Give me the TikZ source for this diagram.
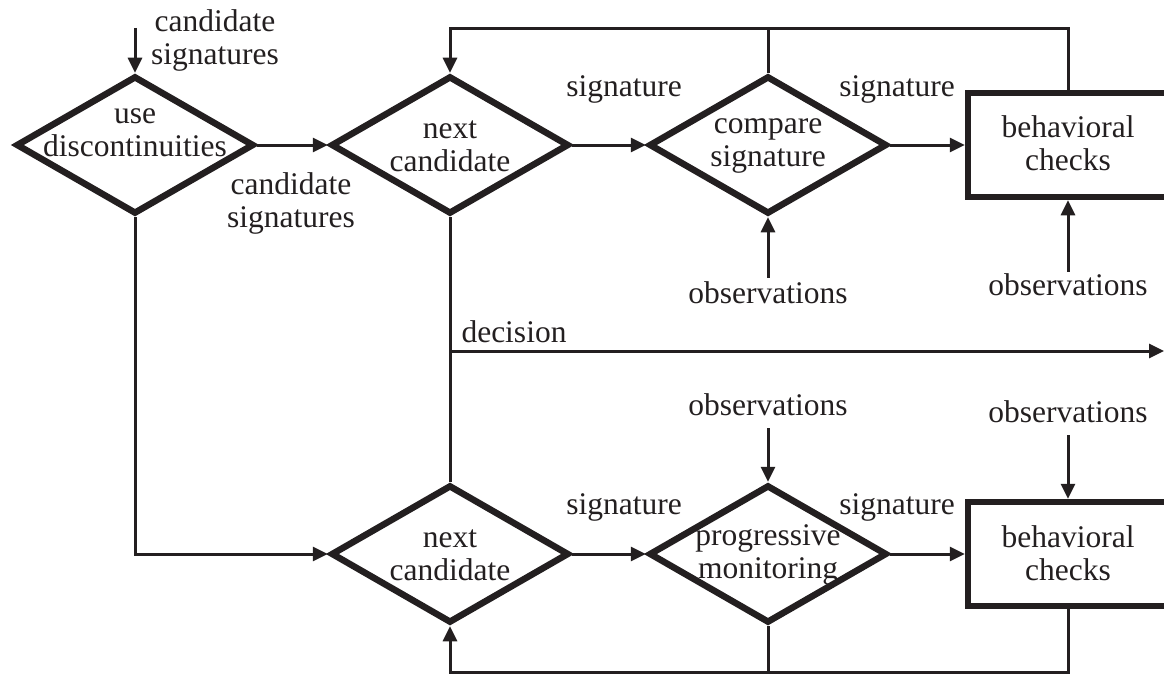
\documentclass[tikz,border=0pt]{standalone}
\usepackage{fontspec}
\setmainfont{Liberation Serif}
\usetikzlibrary{shapes.geometric,arrows.meta}
\definecolor{ink}{RGB}{35,31,32}
\begin{document}
\begin{tikzpicture}[x=1pt,y=-1pt,
  every node/.style={font=\fontsize{31.5}{33}\selectfont, text=ink, align=center, inner sep=0pt},
  dia/.style={diamond, draw=ink, line width=6.5pt, minimum width=238pt, minimum height=138pt, inner sep=0pt},
  box/.style={rectangle, draw=ink, line width=6.5pt, minimum width=200pt, minimum height=104pt},
  conn/.style={draw=ink, line width=3pt},
  arr/.style={conn, -{Triangle[length=15pt,width=14pt]}}]
\useasboundingbox (0,0) rectangle (1164,674);

% shapes
\node[dia] (ud)  at (135,145) {};
\node[dia] (nc1) at (450,145) {};
\node[dia] (cs)  at (768,145) {};
\node[box] (bc1) at (1068,145) {};
\node[dia] (nc2) at (450,554) {};
\node[dia] (pm)  at (768,554) {};
\node[box] (bc2) at (1068,554) {};

% texts inside
\node (udt)  at (135,133) {use\\discontinuities};
\node (nc1t) at (450,146) {next\\candidate};
\node (cst)  at (768,146) {compare\\signature};
\node (bc1t) at (1068,143) {behavioral\\checks};
\node (nc2t) at (450,555) {next\\candidate};
\node (pmt)  at (768,555) {progressive\\monitoring};
\node (bc2t) at (1068,553) {behavioral\\checks};

% labels
\node (lcs0) at (215,40) {candidate\\signatures};
\node (lcs1) at (291,203) {candidate\\signatures};
\node (ls1) at (624,89) {signature};
\node (ls2) at (897,89) {signature};
\node (ls3) at (624,507) {signature};
\node (ls4) at (897,507) {signature};
\node (ldec) at (514,332) {decision};
\node (obs1) at (768,293) {observations};
\node (obs2) at (1068,285) {observations};
\node (obs3) at (768,405) {observations};
\node (obs4) at (1068,412) {observations};

% coordinates
\coordinate (top0) at (135,28);
\coordinate (topY) at (0,29);
\coordinate (botY) at (0,672);
\coordinate (decR) at (1164,351);

% connectors
\draw[arr] (top0) -- (ud.north);
\draw[arr] (ud.east) -- (nc1.west);
\draw[arr] (nc1.east) -- (cs.west);
\draw[arr] (cs.east) -- (bc1.west);
\draw[arr] (nc2.east) -- (pm.west);
\draw[arr] (pm.east) -- (bc2.west);
\draw[arr, shorten <=4pt] (obs1.north) -- (cs.south);
\draw[arr, shorten <=2pt] (obs2.north) -- (bc1.south);
\draw[arr, shorten <=12pt] (obs3.south) -- (pm.north);
\draw[arr, shorten <=12pt] (obs4.south) -- (bc2.north);
\draw[arr] (bc1.north) -- (bc1.north |- topY) -| (nc1.north);
\draw[conn] (cs.north) -- (cs.north |- topY);
\draw[arr] (bc2.south) -- (bc2.south |- botY) -| (nc2.south);
\draw[conn] (pm.south) -- (pm.south |- botY);
\draw[arr] (ud.south) |- (nc2.west);
\draw[conn] (nc1.south) -- (nc2.north);
\draw[arr] (nc1.south |- decR) -- (decR);
\end{tikzpicture}
\end{document}
